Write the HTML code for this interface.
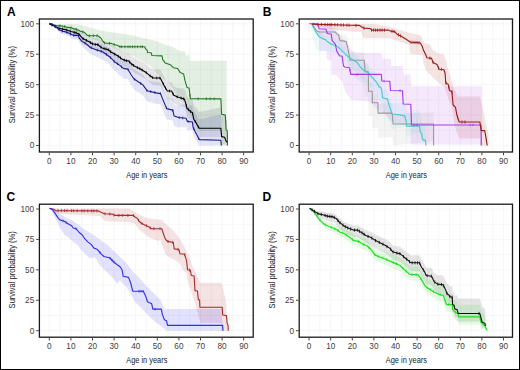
<!DOCTYPE html>
<html><head><meta charset="utf-8"><style>
html,body{margin:0;padding:0;background:#fff;width:520px;height:370px;overflow:hidden}
svg{display:block}
.tk{font-family:"Liberation Sans",sans-serif;font-size:8.2px;fill:#404040}
.ti{font-family:"Liberation Sans",sans-serif;font-size:9.4px;fill:#1a1a1a}
.pl{font-family:"Liberation Sans",sans-serif;font-size:12px;font-weight:bold;fill:#000}
</style></head><body>
<svg width="520" height="370" viewBox="0 0 520 370">
<rect x="0" y="0" width="520" height="370" fill="#fff"/>
<path d="M49.30 19.00V152.00M60.10 19.00V152.00M70.90 19.00V152.00M81.70 19.00V152.00M92.50 19.00V152.00M103.30 19.00V152.00M114.10 19.00V152.00M124.90 19.00V152.00M135.70 19.00V152.00M146.50 19.00V152.00M157.30 19.00V152.00M168.10 19.00V152.00M178.90 19.00V152.00M189.70 19.00V152.00M200.50 19.00V152.00M211.30 19.00V152.00M222.10 19.00V152.00M232.90 19.00V152.00M243.70 19.00V152.00M39.40 145.50H253.20M39.40 130.29H253.20M39.40 115.08H253.20M39.40 99.86H253.20M39.40 84.65H253.20M39.40 69.44H253.20M39.40 54.22H253.20M39.40 39.01H253.20M39.40 23.80H253.20" stroke="#f3f3f3" stroke-width="0.75" fill="none"/>
<path d="M49.30 23.90L78.30 24.30L89.30 27.50L102.60 30.80L118.20 33.20L133.70 35.50L143.00 38.30L155.00 40.50L161.50 43.60L173.70 47.30L180.00 51.20L184.70 51.20L185.50 55.50L189.50 55.50L189.50 60.80L226.80 60.80L226.80 145.50L221.60 145.50L221.60 131.00L199.50 131.00L194.00 121.00L189.00 112.00L185.00 104.00L178.00 96.00L170.00 84.00L160.00 76.00L150.00 66.00L140.00 60.00L130.00 55.00L120.00 51.00L110.00 46.00L100.00 42.00L90.00 38.00L80.00 34.00L70.00 30.00L60.00 27.00L49.30 23.90Z" fill="#1b7f1b" fill-opacity="0.12" stroke="none"/>
<path d="M49.30 23.90L53.70 24.57L58.50 25.62L65.20 26.08L71.00 27.40L74.80 28.02L77.70 28.73L80.00 30.30L81.50 32.05L83.10 33.49L86.20 34.68L89.20 35.88L92.30 37.57L95.40 37.96L97.70 37.73L100.00 39.50L102.30 40.94L104.60 41.68L106.90 42.03L109.20 43.07L110.80 44.73L111.90 45.20L118.00 48.55L122.80 52.03L126.50 53.14L128.60 53.19L131.10 55.92L134.70 58.33L140.80 61.18L145.70 64.06L150.00 67.55L153.20 69.67L160.30 69.49L161.90 72.65L164.10 77.00L167.30 82.32L171.60 82.21L173.80 86.45L177.60 88.06L184.30 88.52L185.70 92.00L187.00 96.92L191.10 98.81L192.40 99.03L193.80 105.22L196.50 108.32L197.80 110.54L199.20 112.05L220.90 107.22L221.60 115.51L224.60 115.79L226.10 119.37L227.30 120.60L227.30 145.50L226.10 145.50L224.60 143.73L221.60 145.17L220.90 137.20L199.20 137.10L197.80 135.04L196.50 132.27L193.80 128.03L192.40 121.25L191.10 120.48L187.00 116.87L185.70 111.40L184.30 107.33L177.60 104.94L173.80 103.14L171.60 98.79L167.30 98.68L164.10 93.20L161.90 88.75L160.30 85.51L153.20 85.33L150.00 83.05L145.70 79.34L140.80 76.22L134.70 73.07L131.10 70.48L128.60 67.61L126.50 67.46L122.80 66.17L118.00 62.45L111.90 58.80L110.80 58.27L109.20 56.53L106.90 55.37L104.60 54.91L102.30 54.06L100.00 52.50L97.70 50.38L95.40 50.27L92.30 49.41L89.20 47.26L86.20 45.61L83.10 43.95L81.50 42.28L80.00 40.30L77.70 38.27L74.80 36.98L71.00 35.60L65.20 33.12L58.50 30.78L53.70 27.03L49.30 23.90Z" fill="#333344" fill-opacity="0.13" stroke="none"/>
<path d="M49.30 23.80L51.90 23.80L53.70 24.07L55.50 24.76L57.90 25.89L59.70 27.18L62.60 28.01L65.60 28.28L68.60 29.14L71.00 30.08L73.90 30.86L78.20 30.37L79.50 33.19L81.90 35.84L84.30 36.70L87.00 38.23L90.40 40.78L93.00 41.43L96.50 42.37L99.50 42.87L102.60 43.54L106.20 45.58L110.00 48.20L114.50 52.70L118.90 55.70L123.40 59.23L127.80 59.71L130.80 64.76L133.80 69.11L138.20 71.79L142.70 74.56L147.10 80.34L156.10 82.09L160.50 82.57L163.50 89.92L166.70 97.27L169.70 97.92L172.70 98.46L174.20 104.39L178.60 105.57L186.10 103.73L187.30 106.33L192.40 104.78L193.10 109.88L195.10 113.14L197.20 116.26L199.20 119.55L220.90 114.33L221.30 119.50L221.30 145.50L220.90 145.50L199.20 145.50L197.20 142.78L195.10 139.12L193.10 135.33L192.40 130.04L187.30 130.25L186.10 127.34L178.60 127.57L174.20 126.39L172.70 120.46L169.70 119.92L166.70 119.27L163.50 111.92L160.50 104.57L156.10 103.80L147.10 101.38L142.70 95.27L138.20 92.16L133.80 89.14L130.80 84.57L127.80 79.29L123.40 78.49L118.90 74.48L114.50 70.60L110.00 65.20L106.20 62.01L102.60 59.43L99.50 58.25L96.50 57.05L93.00 55.30L90.40 54.04L87.00 50.70L84.30 48.40L81.90 46.51L79.50 42.83L78.20 39.46L73.90 39.17L71.00 37.91L68.60 36.58L65.60 35.21L62.60 34.44L59.70 33.02L57.90 30.71L55.50 28.24L53.70 26.53L51.90 24.63L49.30 23.60Z" fill="#3333cc" fill-opacity="0.13" stroke="none"/>
<path d="M49.30 23.60L53.70 25.10L56.10 25.60L59.70 25.90L63.80 26.20L66.20 27.10L68.60 27.40L72.10 28.00L73.90 28.90L76.00 29.20L78.70 30.20L80.50 31.20L82.50 31.80L84.60 32.60L86.90 34.90L88.50 35.70L97.70 35.70L100.80 38.00L103.10 41.50L104.60 43.00L111.50 43.40L113.80 44.50L116.90 45.30L120.00 46.80L144.80 46.80L145.50 48.80L147.20 50.10L147.50 52.50L151.20 52.80L151.90 55.50L162.00 55.90L162.70 59.70L165.40 63.10L170.80 65.10L173.50 67.80L177.60 68.50L180.30 72.60L183.60 73.90L185.00 80.70L187.00 87.40L189.10 88.10L190.40 98.70L220.90 98.90L221.60 114.30L225.30 115.10L226.10 129.90L227.30 130.70L227.50 145.50" stroke="#1f7a1f" stroke-width="1.1" fill="none" stroke-linejoin="round"/>
<path d="M120.00 45.40V48.20M121.77 45.40V48.20M124.96 45.40V48.20M127.99 45.40V48.20M130.00 45.40V48.20M132.49 45.40V48.20M134.89 45.40V48.20M137.69 45.40V48.20M140.77 45.40V48.20M142.46 45.40V48.20M190.00 94.04V96.84M198.19 97.35V100.15M206.34 97.40V100.20M210.21 97.43V100.23M214.22 97.46V100.26M60.00 24.52V27.32M64.74 25.15V27.95M70.95 26.40V29.20M76.33 27.92V30.72M82.83 30.53V33.33M89.43 34.30V37.10M93.35 34.30V37.10M97.01 34.30V37.10M104.63 41.60V44.40M109.48 41.88V44.68M114.20 43.20V46.00" stroke="#1f7a1f" stroke-width="0.8" fill="none"/>
<path d="M49.30 23.90L53.70 25.80L58.50 28.20L65.20 29.60L71.00 31.50L74.80 32.50L77.70 33.50L80.00 35.30L81.50 37.20L83.10 38.80L86.20 40.30L89.20 41.80L92.30 43.80L95.40 44.50L97.70 44.50L100.00 46.50L102.30 48.00L104.60 48.80L106.90 49.20L109.20 50.30L110.80 52.00L111.90 52.50L118.00 56.00L122.80 59.60L126.50 60.80L128.60 60.90L131.10 63.70L134.70 66.20L140.80 69.20L145.70 72.20L150.00 75.80L153.20 78.00L160.30 78.00L161.90 81.20L164.10 85.60L167.30 91.00L171.60 91.00L173.80 95.30L177.60 97.00L184.30 99.10L185.70 103.10L187.00 108.50L191.10 111.90L192.40 112.60L193.80 119.30L196.50 123.40L197.80 126.10L199.20 128.10L220.90 128.20L221.60 136.60L224.60 137.30L226.10 141.10L227.30 142.50" stroke="#000000" stroke-width="1.1" fill="none" stroke-linejoin="round"/>
<path d="M52.00 23.67V26.47M55.29 25.20V28.00M58.88 26.88V29.68M62.58 27.65V30.45M66.65 28.67V31.47M70.22 29.84V32.64M74.23 30.95V33.75M76.10 31.55V34.35M79.02 33.13V35.93M83.09 37.39V40.19M86.44 39.02V41.82M90.41 41.18V43.98M92.48 42.44V45.24M95.40 43.10V45.90M97.80 43.18V45.98M100.90 45.69V48.49M104.08 47.22V50.02M105.91 47.63V50.43M108.23 48.44V51.24M110.70 50.49V53.29M114.70 52.71V55.51M118.34 54.85V57.65M120.52 56.49V59.29M124.23 58.66V61.46M126.37 59.36V62.16M129.65 60.67V63.47M131.75 62.75V65.55M133.56 64.01V66.81M137.45 66.15V68.95M139.75 67.28V70.08M142.07 68.58V71.38M146.23 71.24V74.04M150.12 74.48V77.28M152.61 76.20V79.00M156.72 76.60V79.40M159.82 76.60V79.40M163.24 82.48V85.28M165.53 86.62V89.42M169.59 89.60V92.40M173.05 92.43V95.23M177.17 95.41V98.21M181.11 96.70V99.50M183.63 97.49V100.29M186.30 104.18V106.98M188.50 108.34V111.14M190.65 110.12V112.92M192.60 112.17V114.97M195.13 119.91V122.71M198.37 125.52V128.32" stroke="#000000" stroke-width="0.8" fill="none"/>
<path d="M49.30 23.60L51.90 23.90L53.70 25.30L55.50 26.50L57.90 28.30L59.70 30.10L62.60 31.30L65.60 31.90L68.60 33.10L71.00 34.30L73.90 35.40L78.20 35.40L79.50 38.40L81.90 41.40L84.30 42.60L87.00 44.50L90.40 47.50L93.00 48.50L96.50 49.90L99.50 50.80L102.60 51.80L106.20 54.20L110.00 57.20L114.50 61.70L118.90 64.70L123.40 68.40L127.80 69.10L130.80 74.30L133.80 78.80L138.20 81.70L142.70 84.70L147.10 90.70L156.10 92.90L160.50 93.60L163.50 101.10L166.70 108.60L169.70 109.40L172.70 110.10L174.20 116.10L178.60 117.50L186.10 118.30L187.30 121.40L192.40 122.00L193.10 127.40L195.10 131.50L197.20 135.50L199.20 139.60L220.90 140.30L221.30 145.50" stroke="#1c1c90" stroke-width="1.1" fill="none" stroke-linejoin="round"/>
<path d="M55.00 24.87V27.47M58.94 28.04V30.64M62.36 29.90V32.50M66.94 31.14V33.74M70.56 32.78V35.38M73.83 34.07V36.67M78.43 34.64V37.24M85.11 41.87V44.47M91.31 46.55V49.15M97.37 48.86V51.46M101.26 50.07V52.67M106.40 53.06V55.66M110.51 56.41V59.01M114.20 60.10V62.70M117.62 62.53V65.13M121.48 65.52V68.12M128.19 68.48V71.08M134.51 77.97V80.57M140.73 82.09V84.69M146.94 89.18V91.78M150.71 90.28V92.88M154.95 91.32V93.92M160.46 92.29V94.89M166.38 106.56V109.16M172.80 109.21V111.81M179.32 116.28V118.88M182.67 116.63V119.23M188.09 120.19V122.79M193.78 127.49V130.09M198.80 137.49V140.09" stroke="#1c1c90" stroke-width="0.8" fill="none"/>
<rect x="39.40" y="19.00" width="213.80" height="133.00" fill="none" stroke="#1a1a1a" stroke-width="1.3"/>
<path d="M49.30 152.60V155.30M70.90 152.60V155.30M92.50 152.60V155.30M114.10 152.60V155.30M135.70 152.60V155.30M157.30 152.60V155.30M178.90 152.60V155.30M200.50 152.60V155.30M222.10 152.60V155.30M243.70 152.60V155.30M38.80 145.50H36.10M38.80 115.08H36.10M38.80 84.65H36.10M38.80 54.22H36.10M38.80 23.80H36.10" stroke="#444" stroke-width="1"/>
<text x="49.30" y="164.00" class="tk" text-anchor="middle">0</text>
<text x="70.90" y="164.00" class="tk" text-anchor="middle">10</text>
<text x="92.50" y="164.00" class="tk" text-anchor="middle">20</text>
<text x="114.10" y="164.00" class="tk" text-anchor="middle">30</text>
<text x="135.70" y="164.00" class="tk" text-anchor="middle">40</text>
<text x="157.30" y="164.00" class="tk" text-anchor="middle">50</text>
<text x="178.90" y="164.00" class="tk" text-anchor="middle">60</text>
<text x="200.50" y="164.00" class="tk" text-anchor="middle">70</text>
<text x="222.10" y="164.00" class="tk" text-anchor="middle">80</text>
<text x="243.70" y="164.00" class="tk" text-anchor="middle">90</text>
<text x="34.20" y="148.40" class="tk" text-anchor="end">0</text>
<text x="34.20" y="117.98" class="tk" text-anchor="end">25</text>
<text x="34.20" y="87.55" class="tk" text-anchor="end">50</text>
<text x="34.20" y="57.12" class="tk" text-anchor="end">75</text>
<text x="34.20" y="26.70" class="tk" text-anchor="end">100</text>
<text x="126.20" y="178.00" class="ti" textLength="41.2" lengthAdjust="spacingAndGlyphs">Age in years</text>
<text transform="translate(15.30 123.20) rotate(-90)" class="ti" textLength="77.2" lengthAdjust="spacingAndGlyphs">Survival probability (%)</text>
<text x="7.00" y="15.90" class="pl">A</text>
<path d="M309.10 19.00V152.00M319.90 19.00V152.00M330.70 19.00V152.00M341.50 19.00V152.00M352.30 19.00V152.00M363.10 19.00V152.00M373.90 19.00V152.00M384.70 19.00V152.00M395.50 19.00V152.00M406.30 19.00V152.00M417.10 19.00V152.00M427.90 19.00V152.00M438.70 19.00V152.00M449.50 19.00V152.00M460.30 19.00V152.00M471.10 19.00V152.00M481.90 19.00V152.00M492.70 19.00V152.00M503.50 19.00V152.00M299.20 145.50H512.50M299.20 130.29H512.50M299.20 115.08H512.50M299.20 99.86H512.50M299.20 84.65H512.50M299.20 69.44H512.50M299.20 54.22H512.50M299.20 39.01H512.50M299.20 23.80H512.50" stroke="#f3f3f3" stroke-width="0.75" fill="none"/>
<path d="M311.80 23.90L375.00 23.90L390.40 27.00L406.50 32.00L420.80 35.40L423.50 42.80L430.30 44.90L433.00 50.30L438.40 53.60L443.80 54.30L446.50 62.40L449.50 74.60L454.30 89.20L458.00 96.50L479.90 96.50L482.30 106.20L486.00 123.30L488.40 133.00L488.40 145.50L479.90 145.50L480.50 138.60L459.70 138.60L457.80 134.80L454.00 123.50L453.10 114.00L451.20 104.60L448.40 98.90L444.60 87.60L440.00 84.00L434.90 79.50L431.60 75.90L426.20 70.50L423.50 63.80L422.20 55.00L410.00 54.30L409.00 45.00L400.00 42.00L390.40 38.20L363.50 38.00L361.00 32.00L350.00 31.50L330.00 29.00L311.80 26.00Z" fill="#b03030" fill-opacity="0.13" stroke="none"/>
<path d="M311.80 23.40L325.00 23.60L332.00 27.00L337.00 32.00L342.00 38.00L347.00 44.00L352.00 50.00L356.00 53.00L381.00 53.00L382.60 59.00L391.00 59.00L391.30 66.00L402.50 66.00L403.50 74.60L410.50 74.60L411.50 86.20L481.80 86.20L481.80 144.50L410.50 144.50L410.50 126.00L392.00 122.00L385.00 115.00L378.00 110.00L372.00 104.00L368.90 101.30L351.60 100.30L345.00 91.60L343.00 83.00L337.50 76.50L336.00 75.00L331.50 75.00L331.50 61.50L326.60 59.00L326.60 51.00L319.20 51.00L319.20 37.00L316.00 30.00L311.80 23.40Z" fill="#a020f0" fill-opacity="0.1" stroke="none"/>
<path d="M309.10 23.80L311.80 23.80L313.80 25.89L316.50 29.37L319.20 30.06L335.40 26.92L336.50 28.30L338.70 29.46L339.80 34.64L346.10 34.18L347.40 39.02L348.80 45.74L350.10 52.30L364.30 52.30L365.00 63.10L368.40 63.53L368.50 83.02L372.30 82.72L372.30 94.12L378.00 93.66L378.00 104.06L392.10 103.10L393.10 114.00L433.60 112.03L433.60 133.53L433.60 145.50L433.60 141.00L393.10 145.50L392.10 137.26L378.00 138.10L378.00 127.70L372.30 127.70L372.30 116.30L368.50 116.30L368.40 96.80L365.00 96.10L364.30 84.79L350.10 74.37L348.80 67.02L347.40 59.46L346.10 53.84L339.80 50.52L338.70 44.68L336.50 42.20L335.40 40.16L319.20 34.91L316.50 32.94L313.80 28.17L311.80 24.40L309.10 23.63Z" fill="#888888" fill-opacity="0.09" stroke="none"/>
<path d="M311.80 24.10L313.10 25.56L315.20 27.56L317.90 30.90L319.20 32.90L321.50 33.45L323.30 34.57L325.50 35.05L327.30 36.87L330.00 38.60L334.10 39.73L336.00 40.20L338.10 41.46L340.80 43.98L343.50 46.50L346.20 49.02L349.50 51.30L353.50 53.73L357.60 56.16L360.30 59.97L363.00 62.40L365.70 64.23L368.40 64.56L371.10 68.39L373.80 70.82L377.00 74.10L378.90 77.71L380.80 78.52L381.70 81.23L382.70 88.73L387.40 89.16L388.40 92.86L390.20 98.36L392.10 103.58L401.70 102.76L404.70 102.86L406.10 107.78L406.60 112.88L419.50 111.01L420.30 116.81L421.70 118.14L422.50 124.04L425.50 124.36L425.90 129.51L425.90 145.50L425.50 142.55L422.50 143.35L421.70 137.75L420.30 136.95L419.50 131.45L406.60 137.22L406.10 132.17L404.70 127.39L401.70 127.59L392.10 129.37L390.20 124.34L388.40 118.38L387.40 114.38L382.70 112.54L381.70 104.74L380.80 101.76L378.90 100.38L377.00 96.20L373.80 91.96L371.10 88.72L368.40 84.08L365.70 82.94L363.00 80.30L360.30 77.06L357.60 72.84L353.50 69.87L349.50 66.90L346.20 64.18L343.50 61.30L340.80 58.42L338.10 55.54L336.00 54.00L334.10 53.27L330.00 51.60L327.30 51.22L325.50 50.30L323.30 50.92L321.50 50.70L319.20 51.70L317.90 51.00L315.20 47.66L313.10 40.66L311.80 36.10Z" fill="#40d0d0" fill-opacity="0.1" stroke="none"/>
<path d="M309.10 23.60L311.80 23.60L313.80 26.80L316.50 30.80L319.20 32.00L335.40 32.00L336.50 33.60L338.70 35.20L339.80 40.60L346.10 41.40L347.40 46.50L348.80 53.50L350.10 60.30L364.30 60.30L365.00 71.10L368.40 71.80L368.50 91.30L372.30 91.30L372.30 102.70L378.00 102.70L378.00 113.10L392.10 113.10L393.10 124.00L433.60 124.00L433.60 145.50" stroke="#999999" stroke-width="1.1" fill="none" stroke-linejoin="round"/>
<path d="M311.80 24.10L313.10 26.80L315.20 30.80L317.90 34.90L319.20 36.90L321.50 37.60L323.30 38.90L325.50 39.60L327.30 41.60L330.00 43.60L334.10 45.00L336.00 45.60L338.10 47.00L340.80 49.70L343.50 52.40L346.20 55.10L349.50 57.60L353.50 60.30L357.60 63.00L360.30 67.00L363.00 69.70L365.70 71.80L368.40 72.40L371.10 76.50L373.80 79.20L377.00 82.80L378.90 86.60L380.80 87.60L381.70 90.40L382.70 98.00L387.40 98.90L388.40 102.70L390.20 108.40L392.10 114.00L401.70 115.10L404.70 115.80L406.10 121.00L406.60 126.20L419.50 126.20L420.30 132.10L421.70 133.60L422.50 139.60L425.50 140.30L425.90 145.50" stroke="#48cccc" stroke-width="1.2" fill="none" stroke-linejoin="round"/>
<path d="M311.80 23.40L317.90 24.10L319.20 28.80L326.00 29.20L327.30 33.50L331.40 34.20L332.10 40.30L335.40 44.30L336.80 51.10L339.50 55.80L342.20 56.30L343.50 66.00L344.70 67.00L349.50 67.70L350.80 74.40L381.20 74.40L381.90 81.00L389.80 81.20L390.50 90.50L402.50 90.70L403.20 104.00L410.80 104.30L411.50 124.80L481.10 125.00L481.30 145.50" stroke="#a43ee6" stroke-width="1.15" fill="none" stroke-linejoin="round"/>
<path d="M350.00 68.98V71.58M357.00 73.10V75.70M384.00 79.75V82.35M400.00 89.36V91.96M414.00 123.51V126.11M417.00 123.52V126.12M470.00 123.67V126.27M473.00 123.68V126.28" stroke="#a43ee6" stroke-width="0.8" fill="none"/>
<path d="M311.80 24.20L330.00 24.60L350.00 25.20L359.40 25.40L363.50 28.10L370.20 28.50L371.50 30.10L389.00 30.10L390.40 31.10L394.40 31.50L397.10 34.20L401.10 36.20L406.50 39.50L410.60 42.20L420.10 42.80L422.20 46.20L423.50 50.30L425.50 54.30L426.90 57.70L431.60 58.40L433.00 62.40L437.00 64.50L439.10 69.20L443.80 69.50L445.10 73.20L445.80 83.10L448.20 84.30L449.50 90.40L451.90 91.60L453.10 105.00L455.50 107.40L456.80 114.70L459.20 122.00L479.90 122.00L481.10 130.60L484.70 130.60L486.00 137.90L487.20 145.50" stroke="#9b1c1c" stroke-width="1.15" fill="none" stroke-linejoin="round"/>
<path d="M318.00 22.74V25.94M321.46 22.81V26.01M324.98 22.89V26.09M327.74 22.95V26.15M330.01 23.00V26.20M331.69 23.05V26.25M334.86 23.15V26.35M337.59 23.23V26.43M340.97 23.33V26.53M343.49 23.40V26.60M346.89 23.51V26.71M349.18 23.58V26.78M356.00 23.73V26.93M364.00 26.53V29.73M371.50 28.50V31.70M373.50 28.50V31.70M375.50 28.50V31.70M377.50 28.50V31.70M380.00 28.50V31.70M382.00 28.50V31.70M384.50 28.50V31.70M392.00 29.66V32.86M394.00 29.86V33.06M398.50 33.30V36.50M400.50 34.30V37.50M411.00 40.63V43.83M413.00 40.75V43.95M415.00 40.88V44.08M417.00 41.00V44.20M419.00 41.13V44.33M430.00 56.56V59.76M433.13 60.87V64.07M438.60 66.49V69.69M441.41 67.75V70.95M446.06 81.63V84.83M448.74 85.22V88.42M451.93 90.32V93.52M457.53 115.31V118.51M462.00 120.40V123.60M465.00 120.40V123.60" stroke="#9b1c1c" stroke-width="0.8" fill="none"/>
<rect x="299.20" y="19.00" width="213.30" height="133.00" fill="none" stroke="#1a1a1a" stroke-width="1.3"/>
<path d="M309.10 152.60V155.30M330.70 152.60V155.30M352.30 152.60V155.30M373.90 152.60V155.30M395.50 152.60V155.30M417.10 152.60V155.30M438.70 152.60V155.30M460.30 152.60V155.30M481.90 152.60V155.30M503.50 152.60V155.30M298.60 145.50H295.90M298.60 115.08H295.90M298.60 84.65H295.90M298.60 54.22H295.90M298.60 23.80H295.90" stroke="#444" stroke-width="1"/>
<text x="309.10" y="164.00" class="tk" text-anchor="middle">0</text>
<text x="330.70" y="164.00" class="tk" text-anchor="middle">10</text>
<text x="352.30" y="164.00" class="tk" text-anchor="middle">20</text>
<text x="373.90" y="164.00" class="tk" text-anchor="middle">30</text>
<text x="395.50" y="164.00" class="tk" text-anchor="middle">40</text>
<text x="417.10" y="164.00" class="tk" text-anchor="middle">50</text>
<text x="438.70" y="164.00" class="tk" text-anchor="middle">60</text>
<text x="460.30" y="164.00" class="tk" text-anchor="middle">70</text>
<text x="481.90" y="164.00" class="tk" text-anchor="middle">80</text>
<text x="503.50" y="164.00" class="tk" text-anchor="middle">90</text>
<text x="294.00" y="148.40" class="tk" text-anchor="end">0</text>
<text x="294.00" y="117.98" class="tk" text-anchor="end">25</text>
<text x="294.00" y="87.55" class="tk" text-anchor="end">50</text>
<text x="294.00" y="57.12" class="tk" text-anchor="end">75</text>
<text x="294.00" y="26.70" class="tk" text-anchor="end">100</text>
<text x="385.75" y="178.00" class="ti" textLength="41.2" lengthAdjust="spacingAndGlyphs">Age in years</text>
<text transform="translate(274.70 123.20) rotate(-90)" class="ti" textLength="77.2" lengthAdjust="spacingAndGlyphs">Survival probability (%)</text>
<text x="262.80" y="15.90" class="pl">B</text>
<path d="M49.30 204.20V337.20M60.10 204.20V337.20M70.90 204.20V337.20M81.70 204.20V337.20M92.50 204.20V337.20M103.30 204.20V337.20M114.10 204.20V337.20M124.90 204.20V337.20M135.70 204.20V337.20M146.50 204.20V337.20M157.30 204.20V337.20M168.10 204.20V337.20M178.90 204.20V337.20M189.70 204.20V337.20M200.50 204.20V337.20M211.30 204.20V337.20M222.10 204.20V337.20M232.90 204.20V337.20M243.70 204.20V337.20M39.40 330.70H253.20M39.40 315.49H253.20M39.40 300.27H253.20M39.40 285.06H253.20M39.40 269.85H253.20M39.40 254.64H253.20M39.40 239.42H253.20M39.40 224.21H253.20M39.40 209.00H253.20" stroke="#f3f3f3" stroke-width="0.75" fill="none"/>
<path d="M49.50 208.40L129.60 208.60L137.20 213.50L142.90 216.40L148.50 218.20L161.80 220.10L167.50 225.80L172.00 229.00L178.90 237.60L184.60 247.00L188.40 254.60L193.10 267.90L197.90 277.30L200.70 282.70L221.50 282.70L223.70 291.20L225.80 299.60L226.80 316.50L228.50 330.70L221.50 330.70L221.50 322.90L200.40 322.90L198.30 315.50L196.20 308.10L194.00 299.60L192.20 294.40L188.40 283.00L186.50 273.60L182.70 269.80L178.90 262.20L171.40 258.40L165.70 254.60L162.00 245.00L160.50 240.00L158.00 241.00L148.50 237.20L139.10 229.60L135.30 223.90L129.60 222.00L105.00 221.10L100.00 216.00L60.00 214.00L52.00 212.00L49.50 208.40Z" fill="#b22222" fill-opacity="0.13" stroke="none"/>
<path d="M49.50 208.30L55.40 209.20L59.90 213.90L67.30 218.40L71.70 219.90L77.70 224.30L83.60 228.80L89.60 232.50L95.50 236.20L101.50 240.70L107.40 245.10L112.80 249.90L120.30 257.30L126.20 262.50L132.10 270.70L138.10 276.60L143.30 282.70L147.50 286.90L151.70 291.20L160.20 299.60L164.40 309.10L221.50 309.10L222.50 330.70L166.50 330.70L162.30 327.10L153.80 320.80L147.50 314.40L141.20 308.10L134.80 301.70L130.60 293.30L126.30 286.90L120.00 280.60L117.30 284.00L112.80 278.10L108.40 273.60L103.90 269.20L99.50 264.70L95.00 257.30L89.60 258.50L85.10 254.00L80.70 249.60L77.70 245.10L73.20 242.10L68.80 237.70L64.30 234.70L59.90 227.30L56.90 221.30L53.90 215.40L51.00 209.50Z" fill="#3030ff" fill-opacity="0.14" stroke="none"/>
<path d="M49.50 208.40L53.90 209.20L55.40 210.60L98.50 210.90L101.50 212.40L104.40 213.70L112.60 214.10L114.50 215.40L133.40 215.40L135.30 217.30L137.20 218.20L139.10 221.10L141.00 223.00L144.70 224.90L148.50 226.80L151.40 228.70L161.80 228.70L163.50 234.00L164.70 237.60L166.00 240.00L167.60 241.40L173.30 242.50L174.20 248.90L178.90 249.50L179.90 253.70L184.60 254.30L186.50 260.30L187.50 269.80L190.30 270.30L191.30 275.50L194.10 276.00L195.00 290.60L197.50 291.00L198.30 299.60L199.60 300.00L199.90 307.20L222.20 307.20L222.70 315.00L226.50 315.60L227.10 323.00L228.00 325.00L228.30 330.70" stroke="#a52a2a" stroke-width="1.1" fill="none" stroke-linejoin="round"/>
<path d="M58.00 209.12V212.12M61.40 209.14V212.14M64.54 209.16V212.16M67.03 209.18V212.18M71.56 209.21V212.21M73.67 209.23V212.23M77.18 209.25V212.25M81.80 209.28V212.28M84.12 209.30V212.30M87.78 209.33V212.33M91.60 209.35V212.35M93.82 209.37V212.37M96.98 209.39V212.39M105.00 212.23V215.23M109.76 212.46V215.46M114.00 213.56V216.56M118.78 213.90V216.90M122.22 213.90V216.90M127.85 213.90V216.90M133.52 214.02V217.02M138.57 218.79V221.79M141.85 221.93V224.93M146.42 224.26V227.26M150.30 226.48V229.48M153.90 227.20V230.20M160.03 227.20V230.20M168.00 239.98V242.98M172.81 240.91V243.91M178.05 247.89V250.89M184.75 253.26V256.26M189.61 268.68V271.68" stroke="#a52a2a" stroke-width="0.8" fill="none"/>
<path d="M49.50 208.30L52.40 209.50L55.40 213.90L58.40 218.40L59.90 219.90L64.30 221.30L68.80 224.30L71.70 225.80L73.20 228.00L76.20 228.80L79.20 232.50L82.10 234.70L85.10 239.20L88.10 242.10L91.10 244.40L94.00 248.10L97.00 249.20L100.90 253.60L103.90 256.50L109.90 258.00L114.30 262.50L117.30 264.70L120.30 267.00L122.10 270.00L123.20 276.30L128.50 277.40L130.60 282.70L132.70 291.20L143.30 291.20L145.40 295.40L147.50 301.70L151.70 303.80L152.80 309.10L161.30 309.10L162.30 314.40L164.40 319.70L166.50 320.80L167.60 325.40L222.60 325.40L223.00 330.70" stroke="#3030e6" stroke-width="1.15" fill="none" stroke-linejoin="round"/>
<path d="M63.00 219.59V222.19M66.00 221.13V223.73M76.00 227.45V230.05M100.00 251.28V253.88M110.00 256.80V259.40M112.00 258.85V261.45M114.00 260.89V263.49M139.00 289.90V292.50M141.00 289.90V292.50M143.00 289.90V292.50M155.00 307.80V310.40" stroke="#3030e6" stroke-width="0.8" fill="none"/>
<rect x="39.40" y="204.20" width="213.80" height="133.00" fill="none" stroke="#1a1a1a" stroke-width="1.3"/>
<path d="M49.30 337.80V340.50M70.90 337.80V340.50M92.50 337.80V340.50M114.10 337.80V340.50M135.70 337.80V340.50M157.30 337.80V340.50M178.90 337.80V340.50M200.50 337.80V340.50M222.10 337.80V340.50M243.70 337.80V340.50M38.80 330.70H36.10M38.80 300.27H36.10M38.80 269.85H36.10M38.80 239.42H36.10M38.80 209.00H36.10" stroke="#444" stroke-width="1"/>
<text x="49.30" y="349.20" class="tk" text-anchor="middle">0</text>
<text x="70.90" y="349.20" class="tk" text-anchor="middle">10</text>
<text x="92.50" y="349.20" class="tk" text-anchor="middle">20</text>
<text x="114.10" y="349.20" class="tk" text-anchor="middle">30</text>
<text x="135.70" y="349.20" class="tk" text-anchor="middle">40</text>
<text x="157.30" y="349.20" class="tk" text-anchor="middle">50</text>
<text x="178.90" y="349.20" class="tk" text-anchor="middle">60</text>
<text x="200.50" y="349.20" class="tk" text-anchor="middle">70</text>
<text x="222.10" y="349.20" class="tk" text-anchor="middle">80</text>
<text x="243.70" y="349.20" class="tk" text-anchor="middle">90</text>
<text x="34.20" y="333.60" class="tk" text-anchor="end">0</text>
<text x="34.20" y="303.17" class="tk" text-anchor="end">25</text>
<text x="34.20" y="272.75" class="tk" text-anchor="end">50</text>
<text x="34.20" y="242.32" class="tk" text-anchor="end">75</text>
<text x="34.20" y="211.90" class="tk" text-anchor="end">100</text>
<text x="126.20" y="363.20" class="ti" textLength="41.2" lengthAdjust="spacingAndGlyphs">Age in years</text>
<text transform="translate(15.30 308.40) rotate(-90)" class="ti" textLength="77.2" lengthAdjust="spacingAndGlyphs">Survival probability (%)</text>
<text x="6.60" y="201.10" class="pl">C</text>
<path d="M309.10 204.20V337.20M319.90 204.20V337.20M330.70 204.20V337.20M341.50 204.20V337.20M352.30 204.20V337.20M363.10 204.20V337.20M373.90 204.20V337.20M384.70 204.20V337.20M395.50 204.20V337.20M406.30 204.20V337.20M417.10 204.20V337.20M427.90 204.20V337.20M438.70 204.20V337.20M449.50 204.20V337.20M460.30 204.20V337.20M471.10 204.20V337.20M481.90 204.20V337.20M492.70 204.20V337.20M503.50 204.20V337.20M299.20 330.70H512.50M299.20 315.49H512.50M299.20 300.27H512.50M299.20 285.06H512.50M299.20 269.85H512.50M299.20 254.64H512.50M299.20 239.42H512.50M299.20 224.21H512.50M299.20 209.00H512.50" stroke="#f3f3f3" stroke-width="0.75" fill="none"/>
<path d="M309.50 208.90L313.90 209.74L318.40 211.36L322.80 211.56L327.30 212.73L333.20 213.24L336.20 214.59L339.20 218.14L340.00 218.70L344.10 221.89L348.10 223.69L353.50 225.42L357.60 225.22L363.00 228.35L365.70 230.22L371.10 232.04L375.10 234.55L380.50 236.97L384.60 238.77L390.00 241.90L392.70 245.17L396.80 246.26L400.00 246.60L403.60 249.58L407.30 252.46L410.90 255.44L419.50 255.15L421.30 259.29L424.30 263.49L426.20 267.63L431.60 268.04L434.10 273.19L437.70 275.33L443.10 275.39L445.20 279.48L445.70 280.43L446.50 282.75L447.30 284.37L448.90 285.01L449.70 286.53L452.20 285.93L452.60 292.98L453.80 292.62L455.00 295.98L457.00 295.12L458.20 298.50L479.80 298.50L480.90 302.60L482.00 307.00L485.00 308.50L485.40 311.00L485.40 329.50L485.00 327.33L482.00 328.33L480.90 324.85L479.80 321.50L458.20 321.50L457.00 317.62L455.00 317.48L453.80 313.52L452.60 313.28L452.20 306.03L449.70 305.50L448.90 303.90L447.30 303.10L446.50 301.40L445.70 299.00L445.20 298.00L443.10 293.70L437.70 293.10L434.10 290.60L431.60 285.20L426.20 284.37L424.30 280.11L421.30 275.71L419.50 271.45L410.90 271.16L407.30 267.94L403.60 264.82L400.00 261.60L396.80 261.02L392.70 259.62L390.00 256.15L384.60 252.62L380.50 250.51L375.10 247.68L371.10 244.88L365.70 242.64L363.00 240.57L357.60 236.98L353.50 236.78L348.10 234.50L344.10 232.31L340.00 228.70L339.20 228.02L336.20 224.02L333.20 222.22L327.30 220.83L322.80 218.98L318.40 217.29L313.90 212.68L309.50 208.30Z" fill="#555555" fill-opacity="0.16" stroke="none"/>
<path d="M309.50 208.90L312.40 209.37L315.40 212.21L318.40 215.86L321.30 218.17L324.30 220.87L328.80 222.62L333.20 223.68L337.70 225.53L340.00 227.20L344.10 228.29L348.10 230.79L353.50 234.62L358.90 235.66L363.00 238.15L367.00 239.35L371.10 243.14L375.10 248.34L380.50 250.17L385.90 251.91L391.40 254.33L396.80 256.06L400.00 257.50L404.90 261.94L409.70 265.98L418.20 266.29L421.90 271.67L425.50 277.65L429.20 279.93L434.10 282.80L438.90 284.95L443.20 285.64L444.50 289.27L446.50 294.78L452.20 294.05L452.60 298.85L455.00 300.65L458.20 301.90L458.70 304.80L479.80 304.80L480.90 310.26L483.00 312.96L485.00 315.43L487.00 320.40L487.00 330.70L485.00 329.00L483.00 329.10L480.90 329.10L479.80 324.80L458.70 324.80L458.20 321.90L455.00 319.52L452.60 316.82L452.20 311.88L446.50 311.43L444.50 305.73L443.20 301.96L438.90 300.84L434.10 298.20L429.20 294.90L425.50 292.50L421.90 286.40L418.20 280.90L409.70 280.30L404.90 276.10L400.00 271.50L396.80 269.82L391.40 267.69L385.90 264.85L380.50 262.71L375.10 260.48L371.10 254.98L367.00 250.88L363.00 249.38L358.90 246.57L353.50 245.14L348.10 240.90L344.10 238.10L340.00 236.70L337.70 234.63L333.20 231.99L328.80 230.16L324.30 227.62L321.30 224.40L318.40 220.94L315.40 215.59L312.40 211.03L309.50 208.30Z" fill="#22dd22" fill-opacity="0.13" stroke="none"/>
<path d="M309.50 208.30L312.40 210.20L315.40 213.90L318.40 218.40L321.30 221.30L324.30 224.30L328.80 226.50L333.20 228.00L337.70 230.30L340.00 232.20L344.10 233.50L348.10 236.20L353.50 240.30L358.90 241.60L363.00 244.30L367.00 245.70L371.10 249.70L375.10 255.10L380.50 257.20L385.90 259.20L391.40 261.90L396.80 263.90L400.00 265.50L404.90 270.10L409.70 274.30L418.20 274.90L421.90 280.40L425.50 286.50L429.20 288.90L434.10 292.00L438.90 294.40L443.20 295.30L444.50 299.00L446.50 304.60L452.20 304.60L452.60 309.50L455.00 311.90L458.20 313.90L458.70 316.80L479.80 316.80L480.90 322.00L483.00 324.10L485.00 326.00L487.00 330.40" stroke="#22dd22" stroke-width="1.2" fill="none" stroke-linejoin="round"/>
<path d="M315.00 212.11V214.71M319.90 218.60V221.20M325.53 223.60V226.20M331.19 226.02V228.62M334.76 227.50V230.10M337.81 229.09V231.69M342.31 231.63V234.23M346.40 233.75V236.35M352.64 238.35V240.95M358.41 240.18V242.78M363.81 243.28V245.88M369.05 246.40V249.00M374.69 253.25V255.85M378.27 255.03V257.63M383.03 256.84V259.44M386.68 258.28V260.88M393.30 261.31V263.91M396.54 262.50V265.10M402.82 266.84V269.44M406.11 269.86V272.46M411.86 273.15V275.75M416.21 273.46V276.06M420.83 277.51V280.11M427.20 286.30V288.90M430.27 288.28V290.88M433.52 290.33V292.93M440.18 293.37V295.97M445.21 299.69V302.29M448.58 303.30V305.90M455.52 310.93V313.53" stroke="#22dd22" stroke-width="0.8" fill="none"/>
<path d="M309.50 208.30L313.90 211.00L318.40 213.90L322.80 214.70L327.30 216.10L333.20 216.90L336.20 218.40L339.20 222.10L340.00 222.70L344.10 226.10L348.10 228.10L353.50 230.10L357.60 230.10L363.00 233.50L365.70 235.50L371.10 237.60L375.10 240.30L380.50 243.00L384.60 245.00L390.00 248.40L392.70 251.80L396.80 253.10L400.00 253.60L403.60 256.70L407.30 259.70L410.90 262.80L419.50 262.80L421.30 267.00L424.30 271.30L426.20 275.50L431.60 276.20L434.10 281.60L437.70 284.10L443.10 284.70L445.20 289.00L445.70 290.00L446.50 292.40L447.30 294.10L448.90 294.90L449.70 296.50L452.20 297.30L452.60 304.60L453.80 305.00L455.00 309.10L457.00 309.50L458.20 313.50L479.80 313.50L480.90 317.60L482.00 322.00L485.00 323.50L485.40 326.00" stroke="#111111" stroke-width="1.1" fill="none" stroke-linejoin="round"/>
<path d="M312.00 208.23V211.43M314.42 209.74V212.94M317.87 211.96V215.16M321.31 212.83V216.03M325.15 213.83V217.03M327.39 214.51V217.71M329.75 214.83V218.03M331.90 215.12V218.32M334.24 215.82V219.02M337.80 218.77V221.97M339.91 221.03V224.23M342.99 223.58V226.78M345.30 225.10V228.30M347.81 226.35V229.55M350.64 227.44V230.64M354.46 228.50V231.70M357.72 228.57V231.77M359.55 229.73V232.93M362.01 231.28V234.48M364.16 232.76V235.96M368.06 234.82V238.02M371.80 236.47V239.67M375.53 238.92V242.12M379.32 240.81V244.01M382.90 242.57V245.77M386.98 244.90V248.10M390.69 247.67V250.87M393.10 250.33V253.53M396.94 251.52V254.72M399.91 251.99V255.19M403.52 255.03V258.23M406.68 257.60V260.80M409.51 260.00V263.20M412.18 261.20V264.40M415.01 261.20V264.40M417.57 261.20V264.40M419.65 261.55V264.75M423.42 268.43V271.63M427.13 274.02V277.22M431.30 274.56V277.76M434.76 280.46V283.66M437.89 282.52V285.72M441.48 282.92V286.12M443.61 284.13V287.33M447.03 291.93V295.13M449.89 294.96V298.16M452.12 295.67V298.87M454.40 305.46V308.66M479.00 311.90V315.10M481.50 318.40V321.60" stroke="#111111" stroke-width="0.8" fill="none"/>
<rect x="299.20" y="204.20" width="213.30" height="133.00" fill="none" stroke="#1a1a1a" stroke-width="1.3"/>
<path d="M309.10 337.80V340.50M330.70 337.80V340.50M352.30 337.80V340.50M373.90 337.80V340.50M395.50 337.80V340.50M417.10 337.80V340.50M438.70 337.80V340.50M460.30 337.80V340.50M481.90 337.80V340.50M503.50 337.80V340.50M298.60 330.70H295.90M298.60 300.27H295.90M298.60 269.85H295.90M298.60 239.42H295.90M298.60 209.00H295.90" stroke="#444" stroke-width="1"/>
<text x="309.10" y="349.20" class="tk" text-anchor="middle">0</text>
<text x="330.70" y="349.20" class="tk" text-anchor="middle">10</text>
<text x="352.30" y="349.20" class="tk" text-anchor="middle">20</text>
<text x="373.90" y="349.20" class="tk" text-anchor="middle">30</text>
<text x="395.50" y="349.20" class="tk" text-anchor="middle">40</text>
<text x="417.10" y="349.20" class="tk" text-anchor="middle">50</text>
<text x="438.70" y="349.20" class="tk" text-anchor="middle">60</text>
<text x="460.30" y="349.20" class="tk" text-anchor="middle">70</text>
<text x="481.90" y="349.20" class="tk" text-anchor="middle">80</text>
<text x="503.50" y="349.20" class="tk" text-anchor="middle">90</text>
<text x="294.00" y="333.60" class="tk" text-anchor="end">0</text>
<text x="294.00" y="303.17" class="tk" text-anchor="end">25</text>
<text x="294.00" y="272.75" class="tk" text-anchor="end">50</text>
<text x="294.00" y="242.32" class="tk" text-anchor="end">75</text>
<text x="294.00" y="211.90" class="tk" text-anchor="end">100</text>
<text x="385.75" y="363.20" class="ti" textLength="41.2" lengthAdjust="spacingAndGlyphs">Age in years</text>
<text transform="translate(274.70 308.40) rotate(-90)" class="ti" textLength="77.2" lengthAdjust="spacingAndGlyphs">Survival probability (%)</text>
<text x="262.60" y="201.10" class="pl">D</text>
<rect x="0.5" y="0.5" width="519" height="369" fill="none" stroke="#000" stroke-width="1"/>
</svg>
</body></html>
